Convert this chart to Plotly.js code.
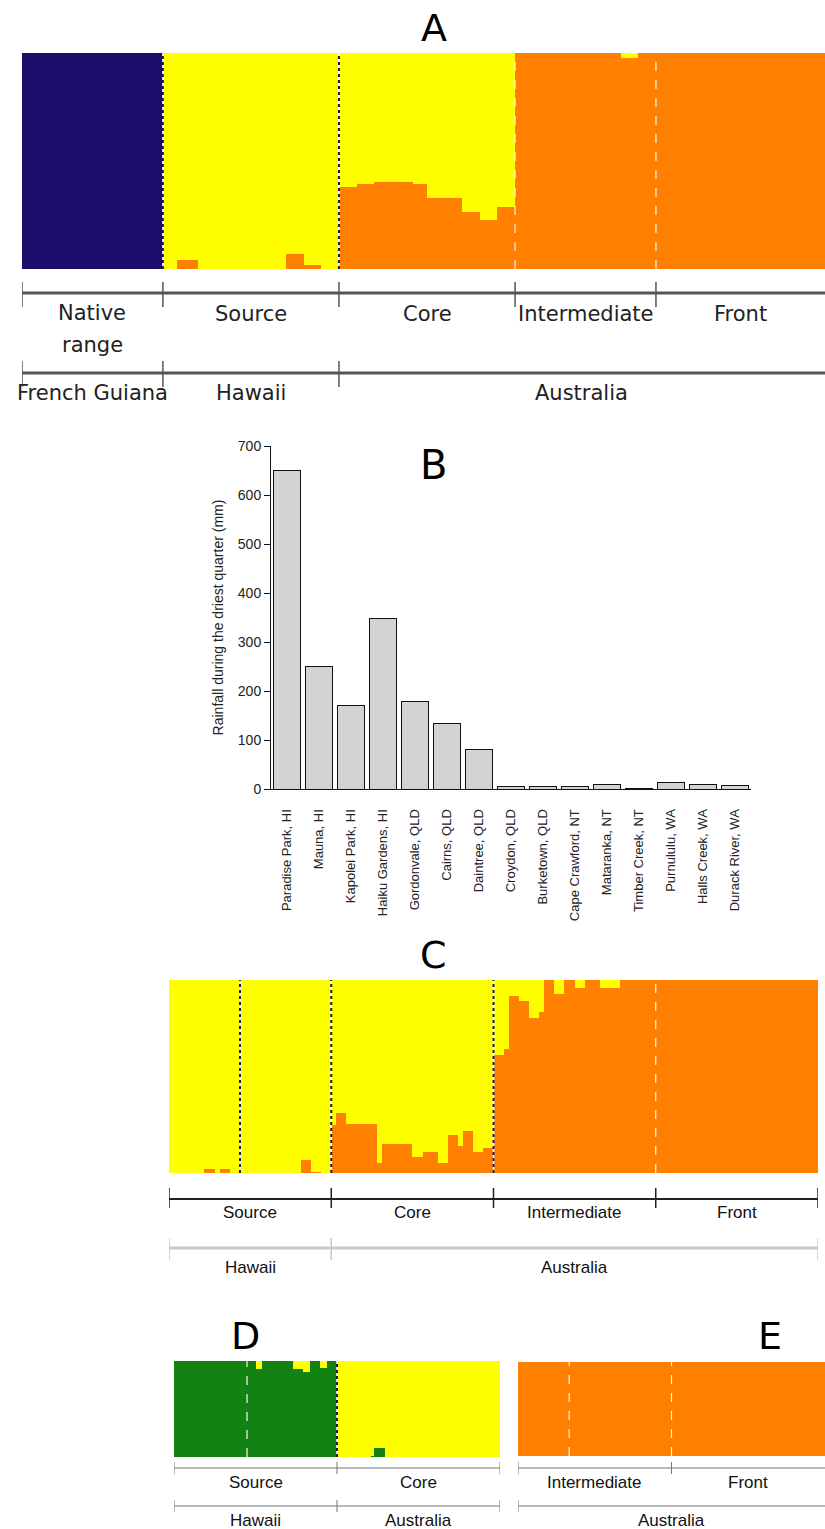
<!DOCTYPE html>
<html><head><meta charset="utf-8">
<script src="https://cdn.plot.ly/plotly-3.0.1.min.js"></script>
<style>html,body{margin:0;padding:0;background:#fff}#chart{width:825px;height:1529px}</style>
</head><body><div id="chart"></div>
<script>
// ---------- Panel A (STRUCTURE, K=3) : run lengths of individuals and ancestry proportions ----------
const A_groups = ["Native range", "Source", "Core", "Intermediate", "Front"];
const A_regions = ["French Guiana", "Hawaii", "Australia"];
const A_nativeCounts = [40];
const A_nativeNavy = [1];
const A_sourceCounts = [4, 6, 25, 5, 5, 5];
const A_sourceOrange = [0, 0.042, 0, 0.068, 0.019, 0];
const A_coreCounts = [5, 5, 11, 4, 10, 5, 5, 5];
const A_coreOrange = [0.381, 0.394, 0.404, 0.394, 0.327, 0.265, 0.227, 0.286];
const A_interCounts = [30, 5, 5];
const A_interOrange = [1, 0.975, 1];
const A_frontCounts = [48];
const A_frontOrange = [1];

// ---------- Panel B : rainfall during driest quarter ----------
const B_sites = ["Paradise Park, HI", "Mauna, HI", "Kapolei Park, HI", "Haiku Gardens, HI",
  "Gordonvale, QLD", "Cairns, QLD", "Daintree, QLD", "Croydon, QLD", "Burketown, QLD",
  "Cape Crawford, NT", "Mataranka, NT", "Timber Creek, NT", "Purnululu, WA", "Halls Creek, WA", "Durack River, WA"];
const B_rain = [650, 251, 170, 348, 179, 134, 80, 6, 6, 6, 9, 1, 13, 9, 7];
const B_ticks = [0, 100, 200, 300, 400, 500, 600, 700];

// ---------- Panel C (STRUCTURE, invasive range only) ----------
const C_groups = ["Source", "Core", "Intermediate", "Front"];
const C_regions = ["Hawaii", "Australia"];
const C_sourceCounts = [7, 2, 1, 2, 14, 2, 2, 2];
const C_sourceOrange = [0, 0.02, 0, 0.02, 0, 0.067, 0.007, 0];
const C_coreCounts = [1, 2, 6, 1, 6, 2, 3, 2, 2, 1, 2, 2, 2];
const C_coreOrange = [0.25, 0.31, 0.255, 0.05, 0.15, 0.083, 0.11, 0.05, 0.197, 0.14, 0.22, 0.11, 0.13];
const C_interCounts = [2, 1, 2, 2, 2, 1, 2, 2, 2, 2, 3, 4, 7];
const C_interOrange = [0.61, 0.64, 0.915, 0.89, 0.805, 0.835, 1, 0.93, 1, 0.96, 1, 0.96, 1];
const C_frontCounts = [32];
const C_frontOrange = [1];
const C_extraSplits = [14];

// ---------- Panel D (Source vs Core) ----------
const D_groups = ["Source", "Core"];
const D_regions = ["Hawaii", "Australia"];
const D_sourceCounts = [24, 2, 9, 3, 2, 3, 2, 3];
const D_sourceGreen = [1, 0.915, 1, 0.915, 0.89, 1, 0.925, 1];
const D_coreCounts = [10, 1, 3, 34];
const D_coreGreen = [0, 0.015, 0.09, 0];
const D_extraSplits = [21.5];

// ---------- Panel E (Intermediate vs Front) ----------
const E_groups = ["Intermediate", "Front"];
const E_regions = ["Australia"];
const E_interCounts = [30];
const E_interOrange = [1];
const E_frontCounts = [30];
const E_frontOrange = [1];
const E_extraSplits = [10];

// ---------- styling ----------
const NAVY = "#1c0c6c", YELLOW = "#ffff00", ORANGE = "#ff8000", GREEN = "#128212";
const W = 825, H = 1529;
const px = v => v / W;
const py = v => 1 - v / H;
const DJ = "DejaVu Sans", LS = "Liberation Sans, Arial, sans-serif";

function stackPanel(groups, layers, xa, ya) {
  const xs = [], ws = [], cols = {};
  layers.forEach(l => cols[l.key] = []);
  let cum = 0; const bounds = [0];
  groups.forEach(g => {
    g.counts.forEach((n, i) => {
      xs.push(cum + n / 2); ws.push(n);
      let used = 0;
      layers.forEach(l => { if (!l.rest) { const v = (g.vals[l.key] || [])[i] || 0; cols[l.key].push(v); used += v; } });
      layers.forEach(l => { if (l.rest) cols[l.key].push(Math.max(0, 1 - used)); });
      cum += n;
    });
    bounds.push(cum);
  });
  const traces = layers.map(l => ({
    type: "bar", x: xs, y: cols[l.key], width: ws,
    marker: { color: l.color, line: { width: 0 } },
    xaxis: xa, yaxis: ya, hoverinfo: "skip", showlegend: false
  }));
  return { traces, bounds, total: cum };
}

const A = stackPanel([
  { counts: A_nativeCounts, vals: { navy: A_nativeNavy } },
  { counts: A_sourceCounts, vals: { orange: A_sourceOrange } },
  { counts: A_coreCounts, vals: { orange: A_coreOrange } },
  { counts: A_interCounts, vals: { orange: A_interOrange } },
  { counts: A_frontCounts, vals: { orange: A_frontOrange } }
], [{ key: "navy", color: NAVY }, { key: "orange", color: ORANGE }, { key: "yellow", color: YELLOW, rest: true }], "x", "y");

const C = stackPanel([
  { counts: C_sourceCounts, vals: { orange: C_sourceOrange } },
  { counts: C_coreCounts, vals: { orange: C_coreOrange } },
  { counts: C_interCounts, vals: { orange: C_interOrange } },
  { counts: C_frontCounts, vals: { orange: C_frontOrange } }
], [{ key: "orange", color: ORANGE }, { key: "yellow", color: YELLOW, rest: true }], "x3", "y3");

const D = stackPanel([
  { counts: D_sourceCounts, vals: { green: D_sourceGreen } },
  { counts: D_coreCounts, vals: { green: D_coreGreen } }
], [{ key: "green", color: GREEN }, { key: "yellow", color: YELLOW, rest: true }], "x4", "y4");

const E = stackPanel([
  { counts: E_interCounts, vals: { orange: E_interOrange } },
  { counts: E_frontCounts, vals: { orange: E_frontOrange } }
], [{ key: "orange", color: ORANGE }, { key: "yellow", color: YELLOW, rest: true }], "x5", "y5");

const barB = {
  type: "bar", x: B_sites, y: B_rain, width: 0.84, xaxis: "x2", yaxis: "y2",
  marker: { color: "#d3d3d3", line: { color: "#111", width: 1 } },
  hoverinfo: "skip", showlegend: false
};

const shapes = [], annotations = [];

function separator(xref, yref, at, style) {
  if (style === "dark") {
    shapes.push({ type: "line", xref, yref, x0: at, x1: at, y0: 0, y1: 1, line: { color: "#ffffff", width: 1.5 } });
    shapes.push({ type: "line", xref, yref, x0: at, x1: at, y0: 0, y1: 1, line: { color: "#17175e", width: 2, dash: "dot" } });
  } else {
    shapes.push({ type: "line", xref, yref, x0: at, x1: at, y0: 0, y1: 1, line: { color: "#fff4f0", width: 1.2, dash: "dash" } });
  }
}
function bracket(xref, ticksAt, x0, x1, ylinePx, t0, t1, color, lw, tw) {
  shapes.push({ type: "line", xref, yref: "paper", x0, x1, y0: py(ylinePx), y1: py(ylinePx), line: { color, width: lw } });
  ticksAt.forEach(t => shapes.push({ type: "line", xref, yref: "paper", x0: t, x1: t, y0: py(t0), y1: py(t1), line: { color, width: tw } }));
}
function label(xref, x, yPx, text, size, family, color) {
  annotations.push({ xref, yref: "paper", x, y: py(yPx), text, showarrow: false, xanchor: "center", yanchor: "middle",
    font: { size, family, color: color || "#111" } });
}
const mid = (b, i) => (b[i] + b[i + 1]) / 2;

// ---- Panel A decorations ----
separator("x", "y", A.bounds[1], "dark");
separator("x", "y", A.bounds[2], "dark");
separator("x", "y", A.bounds[3], "white");
separator("x", "y", A.bounds[4], "white");
bracket("x", A.bounds.slice(0, 5), 0, A.total, 293, 282, 307, "#555", 3, 1.5);
bracket("x", [A.bounds[0], A.bounds[1], A.bounds[2]], 0, A.total, 373, 361, 387, "#555", 3, 1.5);
label("x", mid(A.bounds, 0), 313, "Native", 21, DJ, "#222");
label("x", mid(A.bounds, 0), 345, "range", 21, DJ, "#222");
for (let i = 1; i < 5; i++) label("x", mid(A.bounds, i), 314, A_groups[i], 21, DJ, "#222");
label("x", mid(A.bounds, 0), 393, A_regions[0], 21, DJ, "#222");
label("x", mid(A.bounds, 1), 393, A_regions[1], 21, DJ, "#222");
label("x", (A.bounds[2] + A.total) / 2, 393, A_regions[2], 21, DJ, "#222");
label("paper", px(434), 28, "A", 38, DJ, "#000");

// ---- Panel B ----
label("paper", px(434), 465, "B", 40, DJ, "#000");

// ---- Panel C decorations ----
C_extraSplits.forEach(s => separator("x3", "y3", s, "dark"));
separator("x3", "y3", C.bounds[1], "dark");
separator("x3", "y3", C.bounds[2], "dark");
separator("x3", "y3", C.bounds[3], "white");
bracket("x3", C.bounds, 0, C.total, 1199, 1188, 1208, "#222", 2, 1.5);
bracket("x3", [C.bounds[0], C.bounds[1], C.total], 0, C.total, 1248, 1238, 1260, "#c8c8c8", 3, 1.5);
for (let i = 0; i < 4; i++) label("x3", mid(C.bounds, i), 1212, C_groups[i], 17, LS);
label("x3", mid(C.bounds, 0), 1267, C_regions[0], 17, LS);
label("x3", (C.bounds[1] + C.total) / 2, 1267, C_regions[1], 17, LS);
label("paper", px(434), 955, "C", 38, DJ, "#000");

// ---- Panel D decorations ----
D_extraSplits.forEach(s => separator("x4", "y4", s, "white"));
separator("x4", "y4", D.bounds[1], "dark");
bracket("x4", D.bounds, 0, D.total, 1468, 1462, 1474, "#777", 1.2, 1);
bracket("x4", D.bounds, 0, D.total, 1506, 1500, 1512, "#777", 1.2, 1);
for (let i = 0; i < 2; i++) label("x4", mid(D.bounds, i), 1482, D_groups[i], 17, LS);
for (let i = 0; i < 2; i++) label("x4", mid(D.bounds, i), 1520, D_regions[i], 17, LS);
label("paper", px(245), 1336, "D", 38, DJ, "#000");

// ---- Panel E decorations ----
E_extraSplits.forEach(s => separator("x5", "y5", s, "white"));
separator("x5", "y5", E.bounds[1], "white");
bracket("x5", [E.bounds[0], E.bounds[1]], 0, E.total, 1468, 1462, 1474, "#777", 1.2, 1);
bracket("x5", [E.bounds[0]], 0, E.total, 1506, 1500, 1512, "#777", 1.2, 1);
for (let i = 0; i < 2; i++) label("x5", mid(E.bounds, i), 1482, E_groups[i], 17, LS);
label("x5", E.bounds[1], 1520, E_regions[0], 17, LS);
label("paper", px(770), 1336, "E", 38, DJ, "#000");

function structAxes(xd, yd, total) {
  return [
    { domain: xd, range: [0, total], showgrid: false, zeroline: false, showticklabels: false, ticks: "", showline: false, fixedrange: true },
    { domain: yd, range: [0, 1], showgrid: false, zeroline: false, showticklabels: false, ticks: "", showline: false, fixedrange: true }
  ];
}
const [xA, yA] = structAxes([px(22), 1], [py(269), py(53)], A.total);
const [xC, yC] = structAxes([px(169), px(818)], [py(1173), py(980)], C.total);
const [xD, yD] = structAxes([px(174), px(500)], [py(1457), py(1361)], D.total);
const [xE, yE] = structAxes([px(518), 1], [py(1456), py(1362)], E.total);
yA.anchor = "x"; xA.anchor = "y";
xC.anchor = "y3"; yC.anchor = "x3";
xD.anchor = "y4"; yD.anchor = "x4";
xE.anchor = "y5"; yE.anchor = "x5";

const layout = {
  width: W, height: H, margin: { l: 0, r: 0, t: 0, b: 0 },
  paper_bgcolor: "#fff", plot_bgcolor: "rgba(0,0,0,0)",
  barmode: "stack", bargap: 0, showlegend: false,
  xaxis: xA, yaxis: yA,
  xaxis2: {
    domain: [px(271), px(751)], anchor: "y2", type: "category", range: [-0.5, B_sites.length - 0.5],
    showline: true, linecolor: "#111", linewidth: 1, ticks: "", tickangle: -90, ticklabelstandoff: 14,
    tickfont: { family: LS, size: 13, color: "#222" }, showgrid: false, zeroline: false, fixedrange: true
  },
  yaxis2: {
    domain: [py(789), py(446)], anchor: "x2", range: [0, 700], tickvals: B_ticks,
    showline: true, linecolor: "#111", linewidth: 1, ticks: "outside", ticklen: 6, tickcolor: "#111",
    tickfont: { family: LS, size: 14, color: "#222" }, showgrid: false, zeroline: false, fixedrange: true,
    title: { text: "Rainfall during the driest quarter (mm)", font: { family: LS, size: 14, color: "#222" }, standoff: 10 }
  },
  xaxis3: xC, yaxis3: yC, xaxis4: xD, yaxis4: yD, xaxis5: xE, yaxis5: yE,
  shapes, annotations
};

Plotly.newPlot("chart", [...A.traces, barB, ...C.traces, ...D.traces, ...E.traces], layout, { staticPlot: true, displayModeBar: false });
</script>
</body></html>
